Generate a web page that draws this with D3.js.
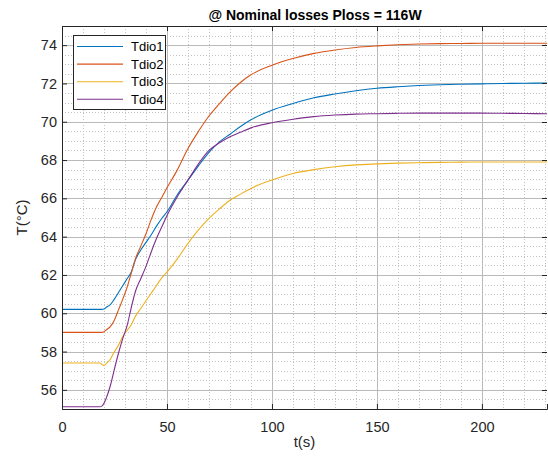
<!DOCTYPE html>
<html><head><meta charset="utf-8">
<script src="https://cdn.jsdelivr.net/npm/d3@7"></script>
<style>body{margin:0;background:#fff}svg{display:block}text{font-family:"Liberation Sans",Arial,sans-serif}</style>
</head><body>
<svg id="c" width="548" height="459"></svg>
<script>
const time = [0,18,19,20,21,23,25,27,29,31,33,35,37.5,40,42.5,45,47.5,50,55,60,65,70,75,80,85,90,100,110,120,130,140,150,160,170,180,190,200,210,220,231];
const tdio1 = [60.2,60.2,60.2,60.22,60.3,60.45,60.75,61.1,61.45,61.8,62.15,62.8,63.3,63.7,64.1,64.55,64.95,65.3,66.2,66.95,67.7,68.4,68.95,69.35,69.75,70.1,70.6,70.95,71.25,71.45,71.62,71.75,71.83,71.89,71.93,71.96,71.98,72.0,72.01,72.02];
const tdio2 = [59.0,59.0,59.0,59.03,59.12,59.3,59.65,60.2,60.75,61.35,62.1,62.85,63.5,64.15,64.9,65.55,66.05,66.55,67.5,68.6,69.5,70.3,70.95,71.55,72.05,72.45,72.95,73.3,73.57,73.75,73.88,73.96,74.02,74.06,74.08,74.09,74.1,74.1,74.1,74.1];
const tdio3 = [57.4,57.4,57.32,57.28,57.36,57.6,58.0,58.35,58.8,59.1,59.4,59.85,60.25,60.65,61.05,61.45,61.85,62.15,62.85,63.65,64.35,64.95,65.45,65.9,66.22,66.52,66.96,67.3,67.5,67.65,67.75,67.8,67.84,67.86,67.88,67.89,67.9,67.9,67.9,67.9];
const tdio4 = [55.12,55.12,55.15,55.3,55.55,56.2,57.1,57.95,58.7,59.35,60.3,61.15,61.8,62.45,63.2,63.9,64.5,65.1,66.1,66.95,67.8,68.5,68.9,69.22,69.45,69.68,69.95,70.13,70.27,70.35,70.4,70.42,70.44,70.45,70.45,70.45,70.45,70.44,70.43,70.42];
const seriesNames = ["Tdio1","Tdio2","Tdio3","Tdio4"];
const seriesColors = ["#0072BD","#D95319","#EDB120","#7E2F8E"];
const xTicks = [0,50,100,150,200];
const yTicks = [56,58,60,62,64,66,68,70,72,74];
const titleText = "@ Nominal losses Ploss = 116W";
const xLabel = "t(s)";
const yLabel = "T(°C)";

const L=62, R=547, T=26, B=409;
const svg = d3.select("#c");
const x = d3.scaleLinear().domain([0,231]).range([L,R]);
const y = d3.scaleLinear().domain([55,75]).range([B,T]);

const g = svg.append("g");
// minor grid
const xMinor = d3.range(0,231,10).filter(v=>v%50!==0);
const yMinor = d3.range(55,75.01,0.5).filter(v=>Math.abs(v-Math.round(v/2)*2)>1e-6);
g.selectAll(".xm").data(xMinor).join("line").attr("x1",d=>Math.round(x(d))+0.5).attr("x2",d=>Math.round(x(d))+0.5).attr("y1",T).attr("y2",B)
 .attr("stroke","#c4c4c4").attr("stroke-dasharray","1,2");
g.selectAll(".ym").data(yMinor).join("line").attr("y1",d=>Math.round(y(d))+0.5).attr("y2",d=>Math.round(y(d))+0.5).attr("x1",L).attr("x2",R)
 .attr("stroke","#c4c4c4").attr("stroke-dasharray","1,2");
// major grid
g.selectAll(".xg").data(xTicks.slice(1)).join("line").attr("x1",d=>Math.round(x(d))+0.5).attr("x2",d=>Math.round(x(d))+0.5).attr("y1",T).attr("y2",B)
 .attr("stroke","#bababa");
g.selectAll(".yg").data(yTicks).join("line").attr("y1",d=>Math.round(y(d))+0.5).attr("y2",d=>Math.round(y(d))+0.5).attr("x1",L).attr("x2",R)
 .attr("stroke","#bababa");

// lines
const cols=[tdio1,tdio2,tdio3,tdio4];
const line = d3.line().x((d,i)=>x(time[i])).y(d=>y(d)).curve(d3.curveMonotoneX);
cols.forEach((c,i)=>{
  g.append("path").datum(c).attr("d",line).attr("fill","none").attr("stroke",seriesColors[i]).attr("stroke-width",1.1);
});

// axes
const xa = svg.append("g").attr("transform",`translate(0,${B})`).call(d3.axisBottom(x).tickValues(xTicks).tickSize(-5).tickPadding(13).tickFormat(d3.format("d")));
const ya = svg.append("g").attr("transform",`translate(${L},0)`).call(d3.axisLeft(y).tickValues(yTicks).tickSize(-5).tickPadding(5).tickFormat(d3.format("d")));
[xa,ya].forEach(a=>{a.select(".domain").attr("stroke","#262626");a.selectAll(".tick line").attr("stroke","#262626");
 a.selectAll("text").attr("fill","#262626").style("font-size","14.5px").style("font-family","Liberation Sans, Arial, sans-serif");});
// top border & right ticks
svg.append("line").attr("x1",L).attr("x2",R).attr("y1",T+0.5).attr("y2",T+0.5).attr("stroke","#262626");
svg.selectAll(".rt").data(yTicks).join("line").attr("x1",R-5).attr("x2",R).attr("y1",d=>Math.round(y(d))+0.5).attr("y2",d=>Math.round(y(d))+0.5).attr("stroke","#262626");
svg.selectAll(".tt").data(xTicks).join("line").attr("y1",T).attr("y2",T+5).attr("x1",d=>Math.round(x(d))+0.5).attr("x2",d=>Math.round(x(d))+0.5).attr("stroke","#262626");

// title and labels
svg.append("text").attr("x",315).attr("y",20).attr("text-anchor","middle").style("font-size","14px").style("font-weight","bold").attr("fill","#000").text(titleText);
svg.append("text").attr("x",(L+R)/2).attr("y",447).attr("text-anchor","middle").style("font-size","15px").attr("fill","#262626").text(xLabel);
svg.append("text").attr("transform",`translate(27,${(T+B)/2}) rotate(-90)`).attr("text-anchor","middle").style("font-size","15px").attr("fill","#262626").text(yLabel);

// legend
const lg = svg.append("g");
lg.append("rect").attr("x",73.5).attr("y",35.5).attr("width",92).attr("height",74).attr("fill","#fff").attr("stroke","#262626");
seriesNames.forEach((n,i)=>{
  const yy = 46.5 + i*17.6;
  lg.append("line").attr("x1",77).attr("x2",123).attr("y1",yy).attr("y2",yy).attr("stroke",seriesColors[i]).attr("stroke-width",1.1);
  lg.append("text").attr("x",131).attr("y",yy+4.5).style("font-size","13px").attr("fill","#000").text(n);
});
</script>
</body></html>
